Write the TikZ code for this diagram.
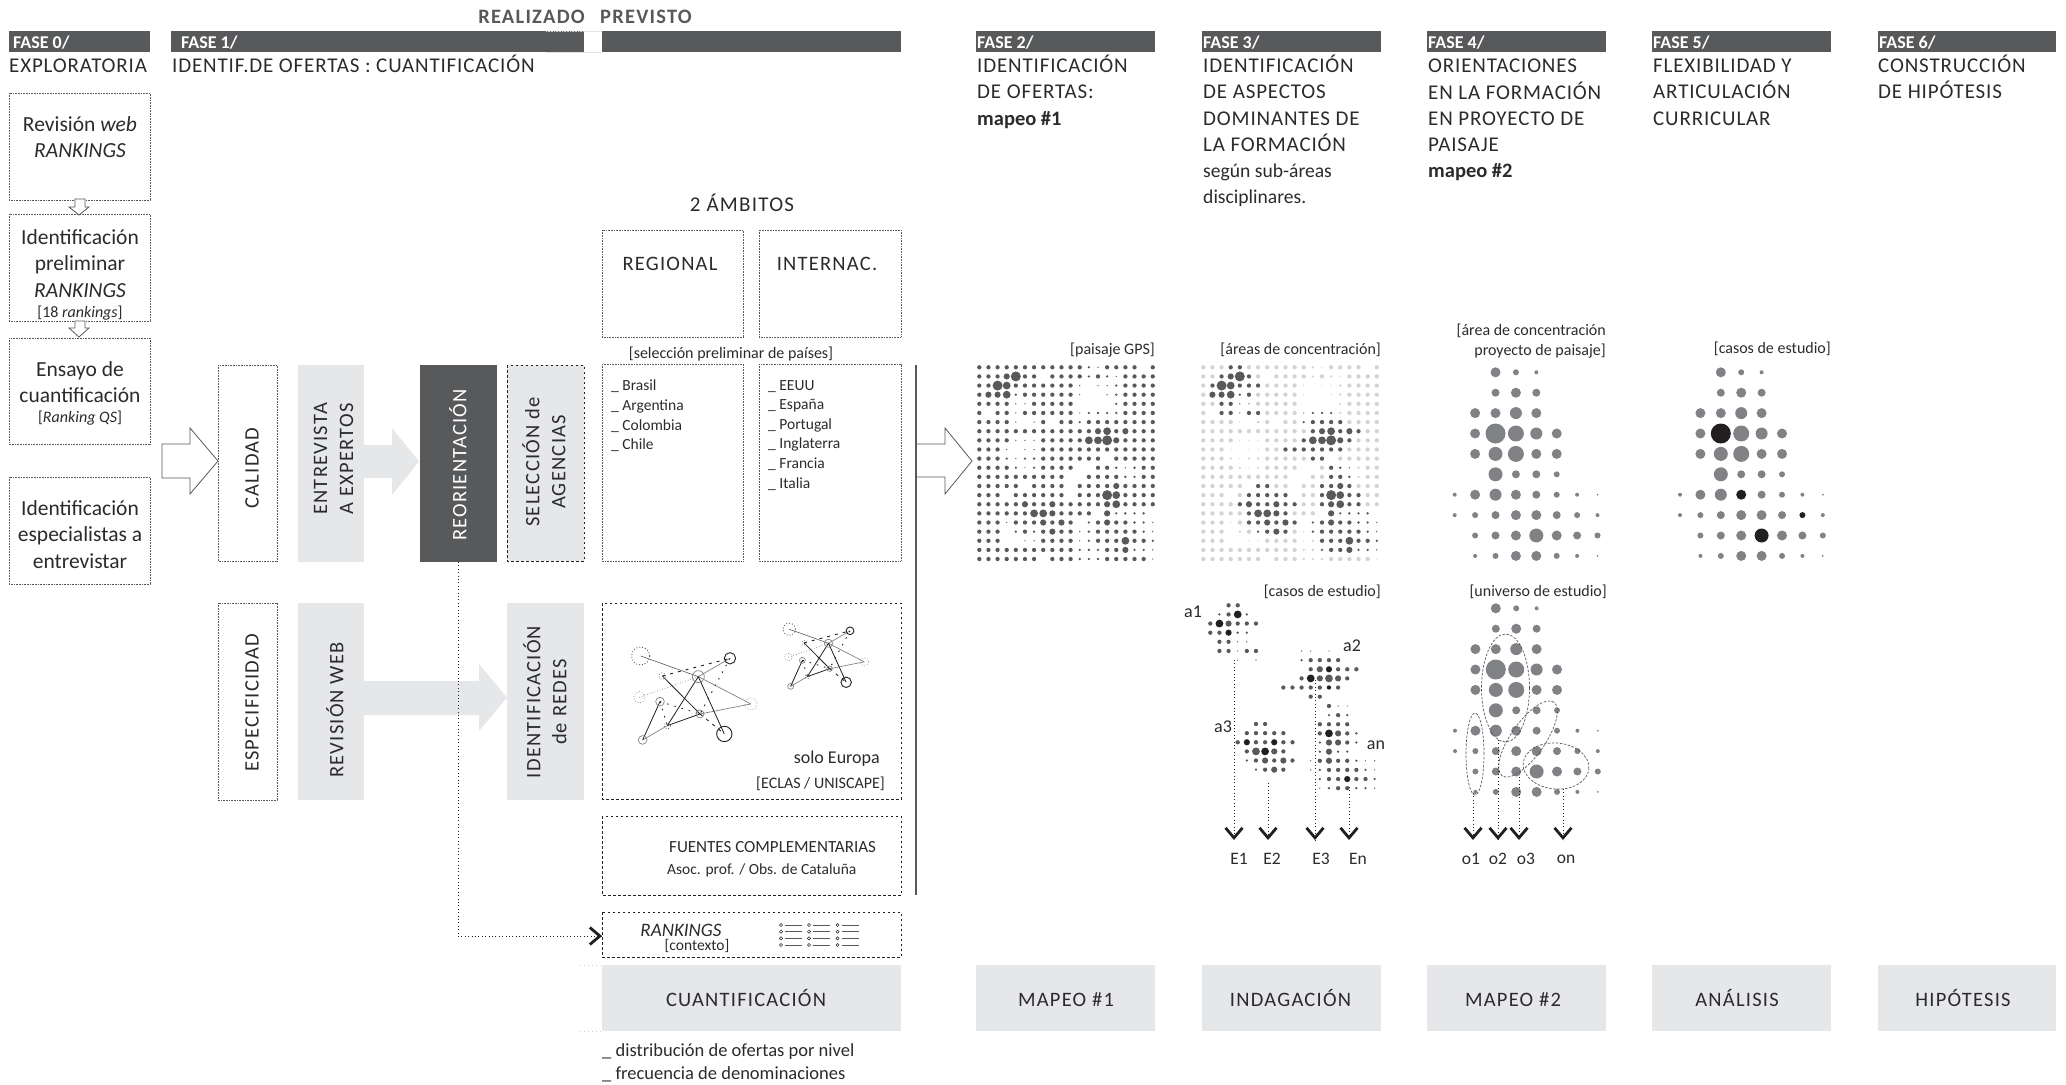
\documentclass[tikz,border=0pt]{standalone}
\usepackage{fontspec}
\setmainfont{Carlito}
\newfontfamily\trk[LetterSpace=6]{Carlito}
\newfontfamily\trh[LetterSpace=4]{Carlito}
\usetikzlibrary{arrows.meta,shapes.geometric}
\definecolor{dk}{HTML}{58595B}
\definecolor{lg}{HTML}{E6E7E8}
\definecolor{tx}{HTML}{2B2B2D}
\definecolor{dg}{HTML}{808285}
\definecolor{pg}{HTML}{D1D3D4}
\definecolor{bk}{HTML}{231F20}
\newcommand{\fsz}[1]{\fontsize{#1}{#1}\selectfont}
\newcommand{\fszb}[2]{\fontsize{#1}{#2}\selectfont}
\newcommand{\lowl}[1]{{\normalfont\fontsize{19.6}{26.2}\selectfont #1}}
\newcommand{\boldl}[1]{{\normalfont\bfseries\fontsize{20.5}{26.2}\selectfont #1}}
\newcommand{\tabsmall}[1]{\ifcase#1 0\or 0.7\or 1.3\or 2.15\or 3.1\or 3.9\or 5\fi}
\newcommand{\tabbig}[1]{\ifnum#1=9 10\else#1\fi}
\newcommand{\dotgrid}[8]{%
 \foreach \rw [count=\jj from 0] in {#8} {%
  \foreach \dd [count=\ii from 0] in \rw {%
   \ifnum\dd>0
    \pgfmathtruncatemacro\szz{mod(\dd,10)}%
    \ifnum\dd>9 \def\cc{#6}\else\def\cc{#5}\fi
    \edef\rr{#7{\szz}}%
    \fill[\cc] ({#1+\ii*#3},{#2+\jj*#4}) circle[radius=\rr pt];%
   \fi}}}
\newcommand{\biggrid}[4]{\dotgrid{#1}{#2}{20.4}{20.4}{dg}{#3}{\tabbig}{#4}}
\newcommand{\clst}[3]{\dotgrid{#1}{#2}{9.13}{9.13}{dk}{bk}{\tabsmall}{#3}}
\newcommand{\netw}[3]{%
\begin{scope}[shift={(#1,#2)},scale=#3]
 \coordinate (A) at (182,948);\coordinate (B) at (355,1010);\coordinate (C) at (450,955);
 \coordinate (D) at (178,1072);\coordinate (E) at (240,1085);\coordinate (F) at (247,1008);
 \coordinate (G) at (513,1092);\coordinate (H) at (360,1122);\coordinate (I) at (262,1157);
 \coordinate (J) at (188,1200);\coordinate (K) at (433,1182);
 \draw[dk,line width=.6pt] (A)--(B);
 \draw[dg,line width=.7pt] (B)--(C) (B)--(G) (G)--(H) (J)--(I);
 \draw[dg,line width=.7pt,dotted] (D)--(B);
 \draw[bk,line width=.8pt] (I)--(H) (I)--(B) (B)--(K) (J)--(E) (F)--(H);
 \draw[bk,line width=.9pt,dash pattern=on 3pt off 5pt] (F)--(C) (H)--(K);
 \draw[bk,line width=.9pt,dash pattern=on 1.5pt off 6pt] (C)--(H) (E)--(I) (E)--(H);
 \draw[dk,line width=.9pt,dotted] (A) circle[radius=27pt];
 \draw[dg,line width=.7pt] (B) circle[radius=18pt] (E) circle[radius=13pt] (H) circle[radius=12pt] (J) circle[radius=13pt];
 \draw[bk,line width=.9pt] (C) circle[radius=17pt] (K) circle[radius=23pt];
 \draw[dg,line width=.7pt,dotted] (D) circle[radius=17pt] (G) circle[radius=18pt];
 \draw[dk,line width=.7pt,dotted] (F) circle[radius=10pt] (I) circle[radius=10pt];
\end{scope}}
\newcommand{\rkicon}[1]{%
 \foreach \yy in {925,931.7,938.3,945}{
  \draw[bk,line width=.5pt] (#1,\yy) circle[radius=1.6pt];
  \draw[dk,line width=.9pt] (#1+4,\yy)--(#1+21,\yy);}}
\tikzset{
 x=1pt,y=-1pt,
 dotbox/.style={draw=dk,line width=.8pt,dash pattern=on .8pt off .8pt,fill=white},
 dashbox/.style={draw=bk,line width=1pt,dash pattern=on 2.5pt off 2.5pt},
 grayblk/.style={fill=lg,draw=none},
 bar/.style={fill=dk,draw=none},
 fase/.style={anchor=west,inner sep=0,text=white,font=\fsz{18}\bfseries},
 lbl/.style={inner sep=0,text=tx,align=center},
 head/.style={anchor=north west,inner sep=0,text=tx,align=left,font=\trh\fszb{21}{26.2},execute at begin node={\rule{0pt}{17.4pt}}},
 caps/.style={lbl,font=\trk\fsz{20.5}},
 rot/.style={lbl,rotate=90,font=\trk\fszb{20.5}{26}},
 sm/.style={inner sep=0,text=tx,font=\fsz{16}},
 lst/.style={anchor=north west,inner sep=0,text=tx,align=left,font=\fszb{15.5}{19.6}},
 body/.style={lbl,font=\fszb{21.5}{26.5}},
 dline/.style={bk,line width=1pt,dash pattern=on 1pt off 2.4pt},
 vhead/.style={solid,line width=.2pt,bk,-{Straight Barb[length=10pt,width=17pt,line width=2.8pt]}},
 outarrow/.style={draw=dk,line width=.8pt,fill=white},
}
\begin{document}
\begin{tikzpicture}
\useasboundingbox (0,0) rectangle (2066,1084);
% top legend
\node[inner sep=0,text=dk,font=\trk\fsz{20.5}\bfseries,anchor=east] (real) at (585,17) {REALIZADO};
\node[inner sep=0,text=dk,font=\trk\fsz{20.5}\bfseries,anchor=west] (prev) at (600,17) {PREVISTO};
% phase bars
\fill[bar] (9,31) rectangle (150,52);
\fill[bar] (171,31) rectangle (901,52);
\fill[white] (584,31) rectangle (602,52);
\draw[pg,line width=.8pt,dash pattern=on .8pt off .8pt] (546,31)--(602,31) (546,52)--(602,52);
\fill[bar] (976,31) rectangle (1155,52);
\fill[bar] (1202,31) rectangle (1381,52);
\fill[bar] (1427,31) rectangle (1606,52);
\fill[bar] (1652,31) rectangle (1831,52);
\fill[bar] (1878,31) rectangle (2056,52);
\node[fase] (f0) at (13,43) {FASE 0/};
\node[fase] (f1) at (181,43) {FASE 1/};
\node[fase] (f2) at (977,43) {FASE 2/};
\node[fase] (f3) at (1203,43) {FASE 3/};
\node[fase] (f4) at (1428,43) {FASE 4/};
\node[fase] (f5) at (1653,43) {FASE 5/};
\node[fase] (f6) at (1879,43) {FASE 6/};
% headings
\node[head] (h0) at (9,55) {EXPLORATORIA};
\node[head] (h1) at (172,55) {IDENTIF.DE OFERTAS : CUANTIFICACIÓN};
\node[head] (h2) at (977,55) {IDENTIFICACIÓN\\DE OFERTAS:\\\boldl{mapeo \#1}};
\node[head] (h3) at (1203,55) {IDENTIFICACIÓN\\DE ASPECTOS\\DOMINANTES DE\\LA FORMACIÓN\\\lowl{según sub-áreas}\\\lowl{disciplinares.}};
\node[head] (h4) at (1428,59) {ORIENTACIONES\\EN LA FORMACIÓN\\EN PROYECTO DE\\PAISAJE\\\boldl{mapeo \#2}};
\node[head] (h5) at (1653,59) {FLEXIBILIDAD Y\\ARTICULACIÓN\\CURRICULAR};
\node[head] (h6) at (1878,55) {CONSTRUCCIÓN\\DE HIPÓTESIS};
% left column
\draw[dotbox] (9,93) rectangle (150,200);
\draw[dotbox] (9,214) rectangle (150,321);
\draw[dotbox] (9,338) rectangle (150,444);
\draw[dotbox] (9,477) rectangle (150,584);
\node[body] (b1) at (80,137) {Revisión \textit{web}\\\textit{RANKINGS}};
\node[body] (b2) at (80,263.5) {Identificación\\preliminar\\\textit{RANKINGS}};
\node[sm] (b2b) at (80,313.5) {[18 \textit{rankings}]};
\node[body] (b3) at (80,382) {Ensayo de\\cuantificación};
\node[sm] (b3b) at (80,418.5) {[\textit{Ranking QS}]};
\node[body] (b4) at (80,534.5) {Identificación\\especialistas a\\entrevistar};
\foreach \yy/\ya/\yb in {199/207/215,321/328/337}{
 \draw[outarrow] (75,\yy)--(75,\ya)--(69,\ya)--(79,\yb)--(89,\ya)--(85,\ya)--(85,\yy)--cycle;}
% big outline arrows
\draw[outarrow] (162,444)--(190,444)--(190,428)--(218,461)--(190,494)--(190,478)--(162,478)--cycle;
\draw[outarrow] (916,444)--(945,444)--(945,428)--(972,461)--(945,494)--(945,477)--(916,477)--cycle;
% gray arrows
\fill[lg] (364,445)--(392,445)--(392,428)--(419,461.5)--(392,495)--(392,478)--(364,478)--cycle;
\fill[lg] (364,681)--(479,681)--(479,664)--(507,697.5)--(479,731)--(479,715)--(364,715)--cycle;
% column boxes
\draw[dotbox] (218,365) rectangle (277,561);
\draw[dotbox] (218,603) rectangle (277,800);
\fill[grayblk] (298,365) rectangle (364,562);
\fill[grayblk] (298,603) rectangle (364,800);
\fill[dk] (420,365) rectangle (497,562);
\fill[lg] (507,365) rectangle (584,561);
\draw[dashbox] (507,365) rectangle (584,561);
\fill[grayblk] (507,603) rectangle (584,800);
\node[rot] (calidad) at (252,468) {CALIDAD};
\node[rot] (espec) at (252,703) {ESPECIFICIDAD};
\node[rot] (entrev) at (333.5,459) {ENTREVISTA\\A EXPERTOS};
\node[rot] (revw) at (335,710) {REVISIÓN WEB};
\node[rot,text=white] (reor) at (458,465) {REORIENTACIÓN};
\node[rot] (selag) at (544,462) {SELECCIÓN de\\AGENCIAS};
\node[rot] (idred) at (545,702) {IDENTIFICACIÓN\\de REDES};
% ambitos
\node[inner sep=0,text=tx,font=\trk\fsz{21}] (amb) at (742,203) {2 ÁMBITOS};
\draw[dotbox] (602,230) rectangle (743,337);
\draw[dotbox] (759,230) rectangle (901,337);
\node[caps] (reg) at (670,264) {REGIONAL};
\node[caps] (int) at (827,264) {INTERNAC.};
\node[sm] (selp) at (731,354) {[selección preliminar de países]};
\draw[dotbox] (602,364) rectangle (743,561);
\draw[dotbox] (759,364) rectangle (901,561);
\node[lst] (l1) at (611,380) {\_ Brasil\\\_ Argentina\\\_ Colombia\\\_ Chile};
\node[lst] (l2) at (768,380) {\_ EEUU\\\_ España\\\_ Portugal\\\_ Inglaterra\\\_ Francia\\\_ Italia};
\draw[dk,line width=1.6pt] (916,365)--(916,895);
% network box
\draw[dashbox] (602,603) rectangle (901,799);
\netw{580}{340}{0.3333}
\netw{748}{414.3}{0.2267}
\node[inner sep=0,text=tx,font=\fsz{18},anchor=east] (solo) at (880,759) {solo Europa};
\node[inner sep=0,text=tx,font=\fsz{16},anchor=east] (eclas) at (885,784) {[ECLAS / UNISCAPE]};
\draw[dashbox] (602,816) rectangle (901,895);
\node[inner sep=0,text=tx,font=\fsz{17},anchor=west] (fu1) at (669,847) {FUENTES COMPLEMENTARIAS};
\node[inner sep=0,text=tx,font=\fsz{15.5},anchor=west] (fu2) at (667,870) {Asoc. prof. / Obs. de Cataluña};
\draw[dashbox] (602,912) rectangle (901,957);
\node[inner sep=0,text=tx,font=\fsz{19}\itshape] (rk) at (681,930) {RANKINGS};
\node[inner sep=0,text=tx,font=\fsz{15.5}] (ctx) at (697,946) {[contexto]};
\rkicon{781}\rkicon{809}\rkicon{837.5}
% reorientation link
\coordinate (rs) at (458,562);\coordinate (rm) at (458,936);\coordinate (re) at (602,936);
\draw[dline] (rs)--(rm)--(re);
\draw[vhead] ([xshift=-1pt]re)--(re);
% bottom row
\draw[pg,line width=.8pt,dash pattern=on 1pt off 3pt] (580,965)--(602,965) (580,1031)--(602,1031);
\foreach \xa/\xb/\xc/\nm/\tlb in {602/901/746/q0/CUANTIFICACIÓN,976/1155/1066/q1/MAPEO \#1,1202/1381/1290.5/q2/INDAGACIÓN,1427/1606/1513/q3/MAPEO \#2,1652/1831/1737/q4/ANÁLISIS,1878/2056/1963/q5/HIPÓTESIS}{
 \fill[lg] (\xa,965) rectangle (\xb,1031);
 \node[caps,anchor=base] (\nm) at (\xc,1006) {\tlb};}
\node[lst,font=\fszb{18.5}{23}] (dist) at (602,1043) {\_ distribución de ofertas por nivel\\\_ frecuencia de denominaciones};
% matrix 1
\node[sm,anchor=east] (gps) at (1155,350) {[paisaje GPS]};
\dotgrid{979.3}{367.3}{9.13}{9.13}{dk}{dk}{\tabsmall}{
{3,3,3,3,3,3,3,3,3,3,3,3,2,1,3,3,3,3,0,3},
{3,3,3,4,6,3,3,0,3,3,3,3,2,3,2,1,3,3,3,3},
{3,3,6,5,3,3,3,3,3,3,3,1,0,1,1,2,3,3,3,3},
{3,4,4,5,2,3,3,3,3,3,3,1,0,0,1,2,3,3,3,3},
{3,3,3,3,1,1,3,3,3,3,3,0,0,0,0,2,3,3,3,3},
{3,0,3,3,1,3,3,3,3,3,3,1,2,2,2,2,3,3,3,3},
{3,3,3,3,1,0,1,3,0,3,3,2,3,3,3,3,3,3,3,3},
{3,3,3,3,3,3,3,3,3,3,3,3,3,4,5,3,4,3,3,3},
{3,3,3,3,1,1,1,3,3,3,3,3,5,5,6,4,3,3,3,3},
{3,3,3,1,0,1,1,3,3,3,3,3,3,3,3,3,3,3,3,3},
{3,3,3,2,1,2,2,3,3,3,3,3,3,3,0,3,3,3,3,3},
{3,3,3,3,2,1,2,3,3,3,3,0,0,3,3,2,1,2,3,3},
{3,3,3,3,3,3,3,3,3,3,0,0,3,3,3,3,2,2,3,3},
{3,3,3,3,3,0,3,3,3,3,0,3,3,3,3,4,3,3,3,3},
{3,3,3,0,3,3,3,3,3,3,0,3,3,3,6,5,3,3,3,3},
{3,3,3,3,3,4,3,3,4,3,3,3,3,3,4,5,3,3,3,3},
{3,3,3,3,3,3,5,5,4,3,3,3,3,0,4,2,2,2,2,0},
{3,3,3,1,3,3,3,4,3,4,3,0,2,3,4,3,3,2,2,1},
{3,3,3,0,2,3,2,3,4,3,3,1,2,3,3,3,3,3,2,1},
{3,3,3,0,0,1,1,3,3,3,3,1,2,3,3,3,5,3,3,2},
{3,3,3,3,3,3,3,3,3,3,3,2,2,2,3,3,4,2,2,1},
{3,3,3,3,3,3,3,0,3,3,3,2,2,2,3,3,3,3,3,1}}
% matrix 2
\node[sm,anchor=east] (conc) at (1381,350) {[áreas de concentración]};
\dotgrid{1203.3}{367.3}{9.13}{9.13}{pg}{dk}{\tabsmall}{
{3,3,3,13,13,3,3,3,3,3,3,3,2,1,3,3,3,3,0,3},
{3,3,13,14,16,13,3,0,3,3,3,3,2,3,2,1,3,3,3,3},
{3,13,16,15,13,13,13,3,3,3,3,1,0,1,1,2,3,3,3,3},
{3,14,14,15,12,13,3,3,3,3,3,1,0,0,1,2,3,3,3,3},
{3,3,13,13,11,11,3,3,3,3,3,0,0,0,0,2,3,3,3,3},
{3,0,13,13,11,13,13,3,3,3,3,11,12,12,12,2,3,3,3,3},
{3,3,3,3,1,0,11,3,0,3,3,12,13,13,13,13,3,3,3,3},
{3,3,3,3,3,3,3,3,3,3,3,3,13,14,15,13,14,13,3,3},
{3,3,3,3,1,1,1,3,3,3,3,13,15,15,16,14,13,3,3,3},
{3,3,3,1,0,1,1,3,3,13,13,13,13,13,13,13,3,3,3,3},
{3,3,3,2,1,2,2,3,3,3,3,3,13,13,0,3,3,3,3,3},
{3,3,3,3,2,1,2,3,3,3,3,0,0,3,13,12,11,2,3,3},
{3,3,3,3,3,3,3,3,3,3,0,0,3,3,13,13,12,2,3,3},
{3,3,3,3,3,0,13,13,3,3,0,3,3,13,13,14,13,3,3,3},
{3,3,3,0,3,13,13,13,13,13,0,3,3,13,16,15,13,13,3,3},
{3,3,3,3,13,14,13,13,14,13,13,3,3,13,14,15,13,13,3,3},
{3,3,3,3,3,13,15,15,14,13,3,3,3,0,14,12,12,12,12,0},
{3,3,3,1,3,13,13,14,13,14,13,0,12,13,14,13,13,12,12,11},
{3,3,3,0,2,3,12,13,14,13,3,1,12,13,13,13,13,13,12,11},
{3,3,3,0,0,1,1,3,3,3,3,1,2,13,13,13,15,13,13,12},
{3,3,3,3,3,3,3,3,3,3,3,2,2,12,13,13,14,12,12,11},
{3,3,3,3,3,3,3,0,3,3,3,2,2,2,3,3,3,3,3,1}}
% matrix 3,4,5
\node[sm,anchor=east,align=right,font=\fszb{16}{19.5}] (pp) at (1606,341) {[área de concentración\\proyecto de paisaje]};
\node[sm,anchor=east] (ce) at (1831,349) {[casos de estudio]};
\biggrid{1454.7}{372.3}{bk}{
{0,0,5,3,2,0,0,0},{0,0,4,5,4,0,0,0},{0,5,5,6,5,0,0,0},{0,5,9,8,6,5,0,0},{0,5,7,8,5,5,0,0},
{0,0,7,4,4,3,0,0},{2,5,6,5,4,3,2,1},{2,3,4,5,5,4,3,2},{0,3,4,5,7,5,4,3},{0,2,3,5,5,3,2,1}}
\biggrid{1680}{372.3}{bk}{
{0,0,5,3,2,0,0,0},{0,0,4,5,4,0,0,0},{0,5,5,6,5,0,0,0},{0,5,19,8,6,5,0,0},{0,5,7,8,5,5,0,0},
{0,0,7,4,4,3,0,0},{2,5,6,15,4,3,2,1},{2,3,4,5,5,4,13,2},{0,3,4,5,17,5,4,3},{0,2,3,5,5,3,2,1}}
\biggrid{1455}{608.3}{bk}{
{0,0,5,3,2,0,0,0},{0,0,4,5,4,0,0,0},{0,5,5,6,5,0,0,0},{0,5,9,8,6,5,0,0},{0,5,7,8,5,5,0,0},
{0,0,7,4,4,3,0,0},{2,5,6,5,4,3,2,1},{2,3,4,5,5,4,3,2},{0,3,4,5,7,5,4,3},{0,2,3,5,5,3,2,1}}
% clusters
\node[sm,anchor=east] (ce2) at (1381,592) {[casos de estudio]};
\node[sm,anchor=east] (ue) at (1607,592) {[universo de estudio]};
\clst{1210.3}{605.3}{{0,0,3,3,0,0},{0,2,3,15,2,0},{3,15,4,3,3,3},{3,3,14,2,2,0},{0,3,3,1,1,0},{0,3,3,1,3,3},{0,0,0,1,0,1}}
\clst{1283.3}{651}{{0,0,1,1,0,1,0,0,0},{0,0,2,3,3,3,3,0,0},{0,0,0,3,4,14,3,3,3},{0,0,3,15,4,5,4,3,0},{3,3,3,3,3,13,3,0,0},{0,0,0,3,3,0,0,0,0}}
\clst{1237.7}{724}{{0,0,3,3,0,0,0},{0,3,3,3,3,3,0},{3,14,3,3,14,3,3},{0,3,5,15,4,3,0},{0,2,3,4,3,4,3},{0,0,2,3,4,3,0}}
\clst{1310.7}{706}{{0,0,3,1,1,0,0,0},{0,0,2,3,2,0,0,0},{0,3,3,3,3,0,0,0},{0,3,15,4,3,2,0,0},{0,2,4,4,3,2,0,0},{0,2,4,2,2,0,0,0},{1,3,4,3,3,2,1,1},{1,2,3,3,3,3,2,1},{0,2,3,3,14,3,3,2},{0,1,2,3,3,2,2,1}}
\node[sm,font=\fsz{18}] (a1) at (1193,612) {a1};
\node[sm,font=\fsz{18}] (a2) at (1352,646) {a2};
\node[sm,font=\fsz{18}] (a3) at (1223,727) {a3};
\node[sm,font=\fsz{18}] (an) at (1376,745) {an};
% ellipses
\draw[dk,line width=.7pt,dash pattern=on 2.5pt off 1.5pt] (1505.5,688) ellipse[x radius=24pt,y radius=54pt];
\draw[dk,line width=.7pt,dash pattern=on 2.5pt off 1.5pt] (1475,754) ellipse[x radius=9pt,y radius=41pt];
\draw[dk,line width=.7pt,dash pattern=on 2.5pt off 1.5pt,rotate around={55:(1528,739)}] (1528,739) ellipse[x radius=45pt,y radius=17pt];
\draw[dk,line width=.7pt,dash pattern=on 2.5pt off 1.5pt,rotate around={-5:(1556,766)}] (1556,766) ellipse[x radius=33pt,y radius=23pt];
% study arrows
\foreach \nm/\xx/\ys/\tlb/\xl in {ea/1234/660/E1/1239,eb/1268/783/E2/1272,ec/1315/680/E3/1321,ed/1349/787/En/1358,oa/1473/793/o1/1471,ob/1498/740/o2/1498,oc/1519/777/o3/1526,od/1563/789/on/1566}{
 \coordinate (\nm s) at (\xx,\ys);
 \coordinate (\nm e) at (\xx,840);
 \draw[dline] (\nm s)--(\nm e);
 \draw[vhead] ([yshift=1pt]\nm e)--(\nm e);
 \node[sm,font=\fsz{17.5}] (\nm l) at (\xl,859) {\tlb};
}
\end{tikzpicture}
\end{document}
